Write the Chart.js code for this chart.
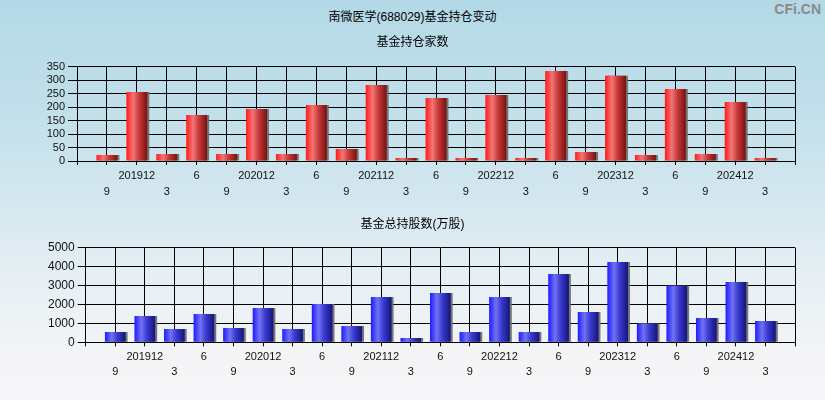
<!DOCTYPE html>
<html>
<head>
<meta charset="utf-8">
<script src="https://cdn.jsdelivr.net/npm/chart.js@4/dist/chart.umd.min.js"></script>
<style>
  html, body { margin:0; padding:0; }
  body {
    width:825px; height:400px; position:relative; overflow:hidden;
    background: linear-gradient(to bottom, #b3d9e6 0%, #c3e0eb 30%, #d6e8f0 52%, #e6eff4 70%, #f3f4f6 88%, #f8f6f8 100%);
    font-family: Arial, "Liberation Sans", "Noto Sans CJK SC", sans-serif;
  }
  #mainTitle { position:absolute; left:0; width:825px; top:9px; text-align:center; font-size:12px; color:#000; line-height:16px; }
  #wm { position:absolute; right:4px; top:1px; font-size:14px; font-weight:bold; color:#8a8a8a; }
  .box { position:absolute; left:0; width:825px; height:200px; }
</style>
</head>
<body>
<div id="mainTitle">南微医学(688029)基金持仓变动</div>
<div id="wm">CFi.CN</div>
<div class="box" style="top:0"><canvas id="c1"></canvas></div>
<div class="box" style="top:200px"><canvas id="c2"></canvas></div>
<script>
const periods = ['201909','201912','202003','202006','202009','202012','202103','202106','202109','202112','202203','202206','202209','202212','202303','202306','202309','202312','202403','202406','202409','202412','202503'];
const fundCounts = [22,256,26,171,26,193,26,208,45,282,11,234,11,245,11,334,33,316,22,267,26,219,11];
const totalShares = [550,1390,700,1500,760,1810,700,2020,860,2390,230,2600,550,2390,550,3610,1600,4240,990,2990,1290,3190,1130];
const title1 = '基金持仓家数';
const title2 = '基金总持股数(万股)';

const FONT = 'Arial, "Liberation Sans", "Noto Sans CJK SC", sans-serif';

function tickLabel(v) {
  const i = Math.round(v) - 1;
  if (i < 0 || i >= periods.length) return '';
  const p = periods[i];
  const m = parseInt(p.slice(4), 10);
  if (m === 12) return p;
  return (i % 2 === 0) ? ['', String(m)] : String(m);
}

function gradFill(stops, fallback) {
  return (ctx) => {
    if (ctx.type !== 'data' || !ctx.parsed) return fallback;
    const chart = ctx.chart, xs = chart.scales.x;
    if (!xs) return fallback;
    const x = xs.getPixelForValue(ctx.parsed.x);
    const w = (xs.getPixelForValue(1) - xs.getPixelForValue(0)) * 0.7;
    if (!isFinite(x) || !isFinite(w) || w <= 0) return fallback;
    const g = chart.ctx.createLinearGradient(x - w / 2, 0, x + w / 2, 0);
    stops.forEach(s => g.addColorStop(s[0], s[1]));
    return g;
  };
}

const shadowPlugin = {
  id: 'barShadow',
  beforeDatasetsDraw(chart) {
    const c = chart.ctx; c.save();
    c.shadowColor = 'rgba(110,110,110,0.95)';
    c.shadowOffsetX = 2; c.shadowOffsetY = 0; c.shadowBlur = 0;
  },
  afterDatasetsDraw(chart) { chart.ctx.restore(); }
};

function makeChart(id, values, cfg) {
  return new Chart(document.getElementById(id), {
    type: 'bar',
    data: {
      datasets: [{
        data: values.map((v, i) => ({ x: i + 1, y: v })),
        backgroundColor: gradFill(cfg.stops, cfg.base),
        borderWidth: 0,
        barPercentage: 0.7,
        categoryPercentage: 1.0
      }]
    },
    plugins: [shadowPlugin],
    options: {
      responsive: true, maintainAspectRatio: false, animation: false,
      layout: { padding: { left: 30, right: 30, top: 0, bottom: 0 } },
      plugins: {
        legend: { display: false },
        tooltip: { enabled: false },
        title: {
          display: true, text: cfg.title, color: '#000',
          font: { family: FONT, size: 12, weight: 'normal', lineHeight: 1.2 },
          padding: cfg.titlePad
        }
      },
      scales: {
        x: {
          type: 'linear', min: 0, max: 24, offset: false,
          grid: { color: '#000', lineWidth: 1, offset: false, drawTicks: true, tickLength: 4, tickColor: '#000' },
          border: { color: '#000', width: 1 },
          ticks: {
            stepSize: 1, autoSkip: false, maxRotation: 0, minRotation: 0,
            color: '#111', padding: cfg.xPad,
            font: { family: FONT, size: 11, lineHeight: cfg.xLine },
            callback: (v) => tickLabel(v)
          },
          afterFit: (s) => { s.height = cfg.xHeight; }
        },
        y: {
          min: 0, max: cfg.yMax,
          grid: { color: '#000', lineWidth: 1, drawTicks: true, tickLength: cfg.yTick, tickColor: '#000' },
          border: { color: '#000', width: 1 },
          ticks: {
            stepSize: cfg.yStep, autoSkip: false, color: '#111', padding: 3,
            font: { family: FONT, size: cfg.yFont, lineHeight: 1 },
            callback: (v) => String(v)
          },
          afterFit: (s) => { s.width = cfg.yWidth - 30; }
        }
      }
    }
  });
}

makeChart('c1', fundCounts, {
  title: title1,
  stops: [[0, '#ff1a1a'], [0.33, '#f27676'], [0.6, '#c83a3a'], [1, '#7a1010']],
  base: '#e03030',
  titlePad: { top: 35.8, bottom: 16.5 },
  xPad: 2.5, xLine: 1.5, xHeight: 39,
  yMax: 350, yStep: 50, yTick: 9, yFont: 11, yWidth: 77
});

makeChart('c2', totalShares, {
  title: title2,
  stops: [[0, '#1c1cff'], [0.33, '#7272f2'], [0.6, '#3a3ad0'], [1, '#14147a']],
  base: '#3030e0',
  titlePad: { top: 17.5, bottom: 15.8 },
  xPad: 2.7, xLine: 1.4, xHeight: 57.7,
  yMax: 5000, yStep: 1000, yTick: 8, yFont: 12, yWidth: 85.7
});
</script>
</body>
</html>
